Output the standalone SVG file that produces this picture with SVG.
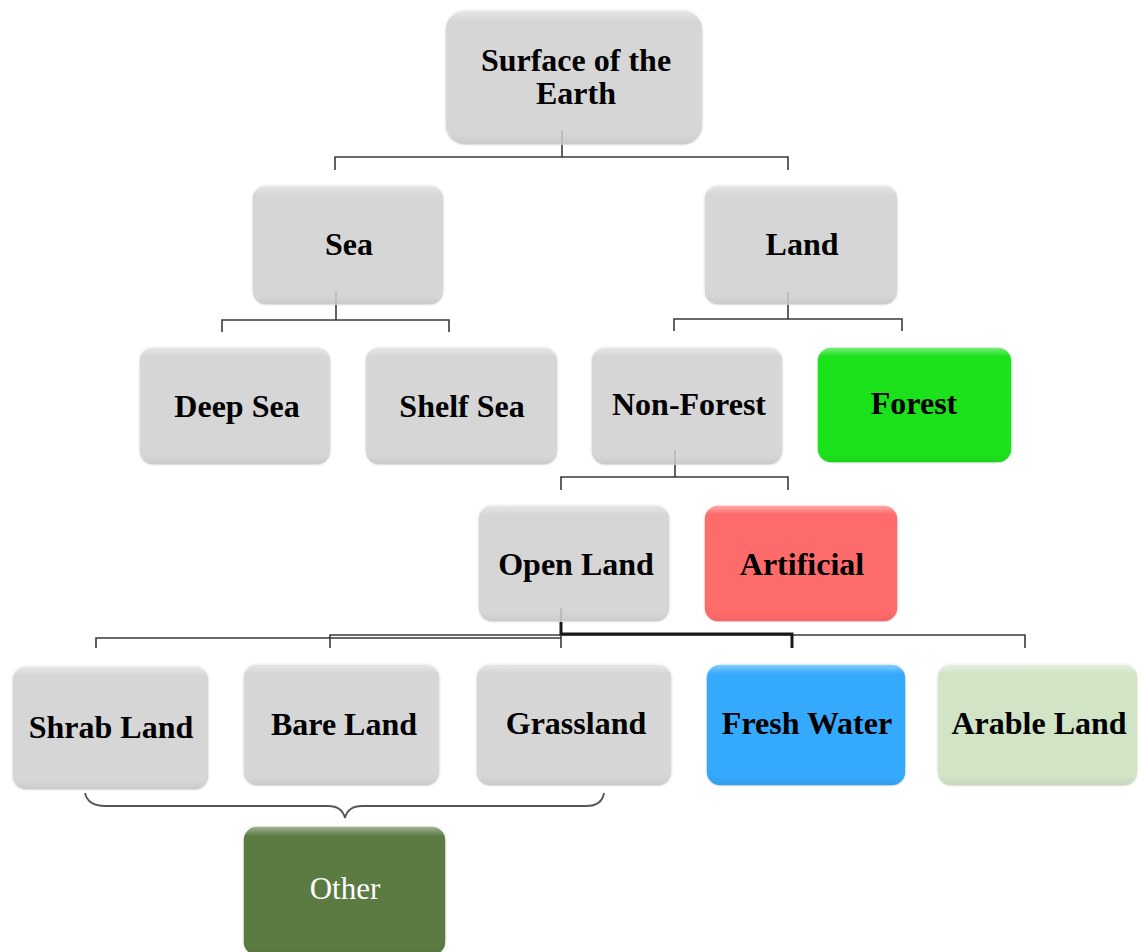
<svg xmlns="http://www.w3.org/2000/svg" width="1142" height="952" viewBox="0 0 1142 952">
<style>
.box{stroke:#f4f4f4;stroke-width:1.5}
.gray{fill:#d6d6d6}
.t{font-family:"Liberation Serif","Times New Roman",serif;font-weight:bold;font-size:32px;fill:#000;text-anchor:middle}
.w{font-family:"Liberation Serif","Times New Roman",serif;font-size:31px;fill:#fff;text-anchor:middle}
.c{fill:none;stroke:#3a3a3a;stroke-width:1.6}
.ck{fill:none;stroke:#1a1a1a;stroke-width:3}
.ci{fill:none;stroke:#bdbdbd;stroke-width:2}
.gl{fill:url(#gloss)}
</style>
<defs>
<linearGradient id="gloss" x1="0" y1="0" x2="0" y2="1">
<stop offset="0" stop-color="#fff" stop-opacity="0.45"/>
<stop offset="0.08" stop-color="#fff" stop-opacity="0"/>
<stop offset="0.92" stop-color="#000" stop-opacity="0"/>
<stop offset="1" stop-color="#000" stop-opacity="0.06"/>
</linearGradient>
</defs>
<g id="n-surface"><rect class="box gray" x="445" y="10" width="258" height="135" rx="20"/><rect class="gl" x="445" y="10" width="258" height="135" rx="20"/><text class="t" x="576" y="71">Surface of the</text><text class="t" x="576" y="104">Earth</text></g>
<g id="n-sea"><rect class="box gray" x="252" y="185" width="192" height="120" rx="14"/><rect class="gl" x="252" y="185" width="192" height="120" rx="14"/><text class="t" x="349" y="255">Sea</text></g>
<g id="n-land"><rect class="box gray" x="704" y="185" width="194" height="120" rx="14"/><rect class="gl" x="704" y="185" width="194" height="120" rx="14"/><text class="t" x="802" y="255">Land</text></g>
<g id="n-deepsea"><rect class="box gray" x="139" y="347" width="192" height="118" rx="14"/><rect class="gl" x="139" y="347" width="192" height="118" rx="14"/><text class="t" x="237" y="417">Deep Sea</text></g>
<g id="n-shelfsea"><rect class="box gray" x="365" y="347" width="193" height="118" rx="14"/><rect class="gl" x="365" y="347" width="193" height="118" rx="14"/><text class="t" x="462" y="417">Shelf Sea</text></g>
<g id="n-nonforest"><rect class="box gray" x="591" y="347" width="192" height="118" rx="14"/><rect class="gl" x="591" y="347" width="192" height="118" rx="14"/><text class="t" x="689" y="415">Non-Forest</text></g>
<g id="n-forest"><rect class="box" fill="#1ce21c" x="817" y="347" width="195" height="116" rx="14"/><rect class="gl" x="817" y="347" width="195" height="116" rx="14"/><text class="t" x="914" y="414">Forest</text></g>
<g id="n-openland"><rect class="box gray" x="478" y="505" width="192" height="117" rx="14"/><rect class="gl" x="478" y="505" width="192" height="117" rx="14"/><text class="t" x="576" y="575">Open Land</text></g>
<g id="n-artificial"><rect class="box" fill="#fe6b6b" x="704" y="505" width="194" height="117" rx="14"/><rect class="gl" x="704" y="505" width="194" height="117" rx="14"/><text class="t" x="802" y="575">Artificial</text></g>
<g id="n-shrab"><rect class="box gray" x="12" y="666" width="197" height="124" rx="14"/><rect class="gl" x="12" y="666" width="197" height="124" rx="14"/><text class="t" x="111" y="738">Shrab Land</text></g>
<g id="n-bare"><rect class="box gray" x="243" y="664" width="197" height="122" rx="14"/><rect class="gl" x="243" y="664" width="197" height="122" rx="14"/><text class="t" x="344" y="735">Bare Land</text></g>
<g id="n-grass"><rect class="box gray" x="476" y="664" width="196" height="122" rx="14"/><rect class="gl" x="476" y="664" width="196" height="122" rx="14"/><text class="t" x="576" y="734">Grassland</text></g>
<g id="n-fresh"><rect class="box" fill="#35a9fb" x="706" y="664" width="200" height="122" rx="14"/><rect class="gl" x="706" y="664" width="200" height="122" rx="14"/><text class="t" x="807" y="734">Fresh Water</text></g>
<g id="n-arable"><rect class="box" fill="#d1e4c6" x="937" y="664" width="201" height="122" rx="14"/><rect class="gl" x="937" y="664" width="201" height="122" rx="14"/><text class="t" x="1039" y="734">Arable Land</text></g>
<g id="n-other"><rect class="box" fill="#5b7b42" x="243" y="826" width="203" height="130" rx="14"/><rect class="gl" x="243" y="826" width="203" height="130" rx="14"/><text class="w" x="345" y="899">Other</text></g>
<g id="connectors">
<path class="ci" d="M562 130V145"/>
<path class="c" d="M562 145V157M335 170V157H788V170"/>
<path class="ci" d="M336 292V305"/>
<path class="c" d="M336 305V320M222 332V320H449V332"/>
<path class="ci" d="M788 292V305"/>
<path class="c" d="M788 305V319M674 331V319H902V331"/>
<path class="ci" d="M675 450V465"/>
<path class="c" d="M675 465V477M561 490V477H788V490"/>
<path class="ci" d="M561 608V622"/>
<path class="c" d="M96 648V638H561M330 648V635H1025V648M561 648V636"/>
<path class="ck" d="M561 622V634H792V648"/>
<path class="c" d="M85 793Q88 806 105 806H328Q342 806 345 818Q348 806 362 806H586Q602 806 604 793" style="stroke:#555;stroke-width:1.8"/>
</g>
</svg>
